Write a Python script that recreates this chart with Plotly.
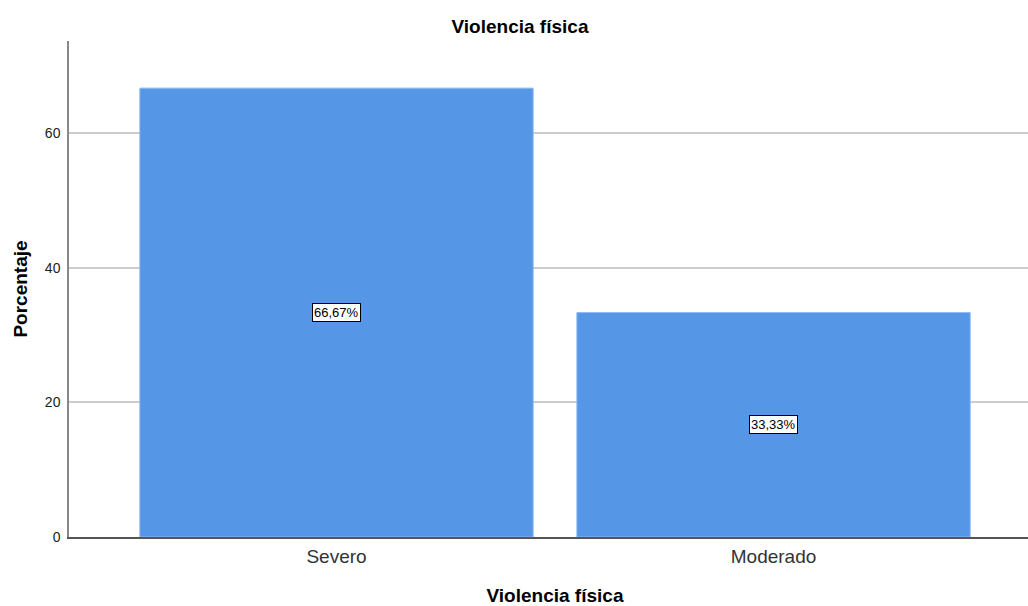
import plotly.graph_objects as go

categories = ["Severo", "Moderado"]
percentages = [66.67, 33.33]
bar_labels = ["66,67%", "33,33%"]
y_ticks = [0, 20, 40, 60]

FONT = "Liberation Sans, Arial, sans-serif"
BAR_COLOR = "#5596e6"

fig = go.Figure()
fig.add_trace(go.Bar(
    x=[0, 1],
    y=percentages,
    width=0.9,
    marker=dict(color=BAR_COLOR, line=dict(color="#8fb8ee", width=1)),
    hoverinfo="skip",
))

for i, (v, t) in enumerate(zip(percentages, bar_labels)):
    fig.add_annotation(
        x=i, y=v / 2, text=t, showarrow=False,
        font=dict(family=FONT, size=13, color="black"),
        bgcolor="white", bordercolor="black", borderwidth=1, borderpad=1,
    )

# The original canvas's plot area runs past the right edge of the 1028px view.
fig.update_layout(
    width=1041, height=606,
    margin=dict(l=69, r=0, t=41, b=69),
    paper_bgcolor="white", plot_bgcolor="white",
    showlegend=False,
    title=dict(text="<b>Violencia física</b>", x=520 / 1041, xanchor="center",
               y=1 - 26 / 606, yanchor="middle",
               font=dict(family=FONT, size=19, color="black")),
    font=dict(family=FONT, color="black"),
)

fig.update_xaxes(
    range=[-0.6121, 1.612],
    tickmode="array", tickvals=[0, 1], ticktext=categories,
    tickfont=dict(family=FONT, size=19, color="#333333"),
    showgrid=False, zeroline=False,
    showline=True, linecolor="#555555", linewidth=1.5,
    ticks="", ticklen=0, ticklabelstandoff=1,
    title=dict(text="<b>Violencia física</b>", font=dict(family=FONT, size=19, color="black"), standoff=23),
)

fig.update_yaxes(
    range=[0, 73.67],
    tickmode="array", tickvals=y_ticks,
    tickfont=dict(family=FONT, size=14, color="#222222"),
    showgrid=True, gridcolor="#cccccc", gridwidth=1.5,
    zeroline=False,
    showline=True, linecolor="#888888", linewidth=1.5,
    ticks="", ticklabelstandoff=4,
    title=dict(text="<b>Porcentaje</b>", font=dict(family=FONT, size=19, color="black"), standoff=12),
)

fig.write_html(
    "out.html",
    config={"displayModeBar": False},
    post_script="document.body.style.margin='0';document.body.style.overflow='hidden';",
)
